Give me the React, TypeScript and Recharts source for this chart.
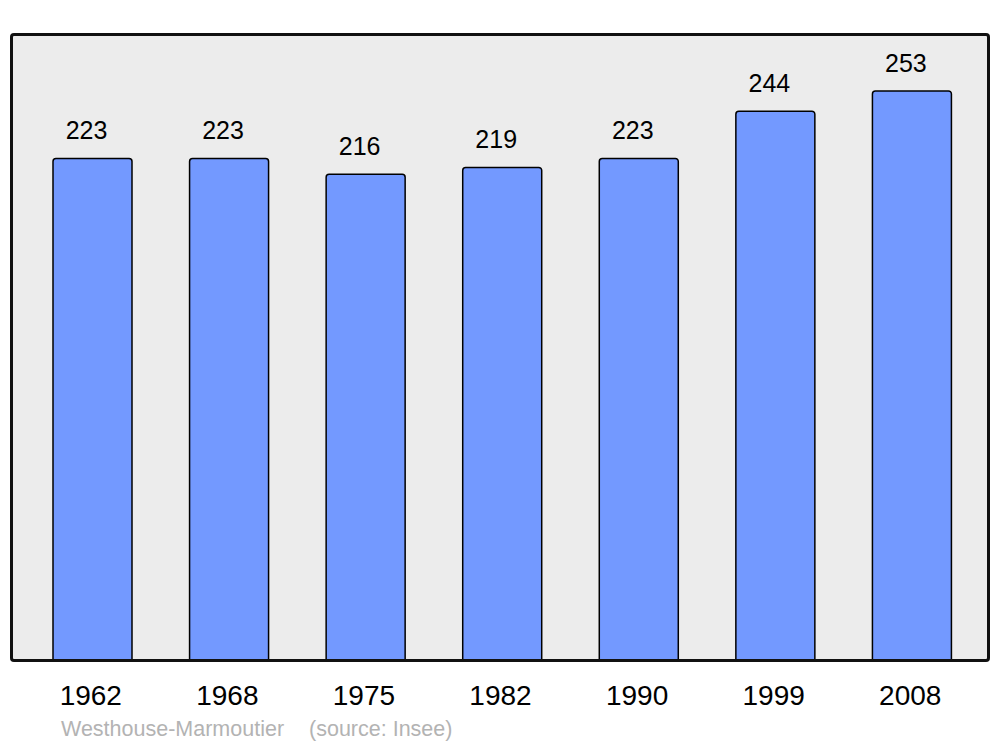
import { BarChart, Bar, XAxis, YAxis, LabelList } from 'recharts';

const years = ['1962', '1968', '1975', '1982', '1990', '1999', '2008'];
const population = [223, 223, 216, 219, 223, 244, 253];
const place = 'Westhouse-Marmoutier';
const source = '(source: Insee)';

const data = years.map((year, i) => ({ year, population: population[i] }));

const W = 1000;
const H = 747;
const margin = { top: 34, right: 11, left: 11, bottom: 27 };
const font = '"Liberation Sans", Arial, sans-serif';

export default function App() {
  return (
    <div style={{ position: 'absolute', left: 0, top: 0, width: W, height: H, background: '#fff', fontFamily: font }}>
      {/* plot background */}
      <div
        style={{
          position: 'absolute',
          left: 10,
          top: 33,
          width: 980,
          height: 629,
          background: '#ececec',
          borderRadius: 4,
        }}
      />
      <div style={{ position: 'absolute', left: 0, top: 0 }}>
        <BarChart width={W} height={H} data={data} margin={margin}>
          <XAxis
            dataKey="year"
            height={60}
            axisLine={false}
            tickLine={false}
            tickSize={0}
            tickMargin={25}
            padding={{ left: 13, right: 9 }}
            tick={{ fill: '#000', fontSize: 28, fontFamily: font, dx: -1.5 }}
          />
          <YAxis hide domain={[0, (max: number) => max * 1.1]} />
          <Bar
            dataKey="population"
            fill="#7399ff"
            stroke="#000"
            strokeWidth={1.5}
            barSize={79}
            radius={[3, 3, 0, 0]}
            isAnimationActive={false}
          >
            <LabelList
              dataKey="population"
              position="top"
              offset={19}
              dx={-6}
              style={{ fill: '#000', fontSize: 25, fontFamily: font }}
            />
          </Bar>
        </BarChart>
      </div>
      {/* frame */}
      <div
        style={{
          position: 'absolute',
          left: 10,
          top: 33,
          width: 980,
          height: 629,
          boxSizing: 'border-box',
          border: '3px solid #111',
          borderRadius: 4,
          pointerEvents: 'none',
        }}
      />
      <div
        style={{
          position: 'absolute',
          left: 61,
          top: 717,
          fontSize: 21.5,
          color: '#b3b3b3',
          whiteSpace: 'nowrap',
        }}
      >
        <span>{place}</span>
        <span style={{ marginLeft: 25 }}>{source}</span>
      </div>
    </div>
  );
}
